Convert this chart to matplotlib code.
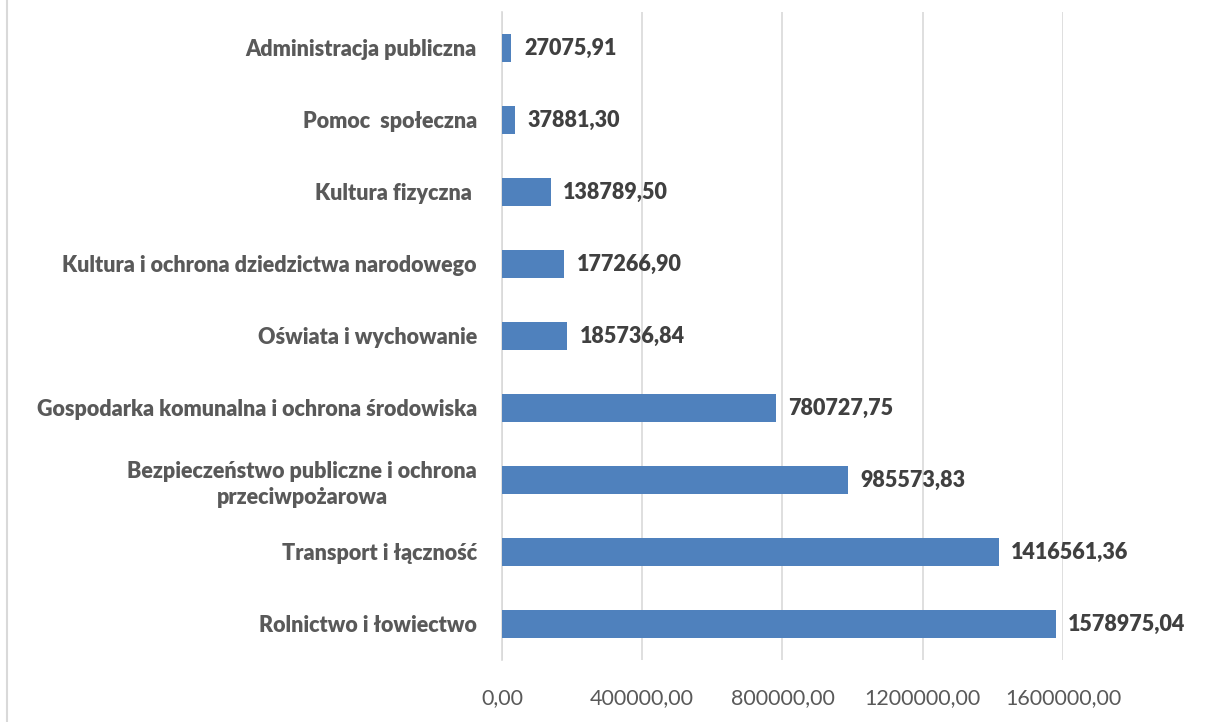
import numpy as np
import matplotlib
matplotlib.use("Agg")
from matplotlib import pyplot as plt
from matplotlib.lines import Line2D

# categories from bottom to top
categories = ["Rolnictwo i łowiectwo",
              "Transport i łączność",
              "Bezpieczeństwo publiczne i ochrona\nprzeciwpożarowa",
              "Gospodarka komunalna i ochrona środowiska",
              "Oświata i wychowanie",
              "Kultura i ochrona dziedzictwa narodowego",
              "Kultura fizyczna ",
              "Pomoc  społeczna",
              "Administracja publiczna"]
values = [1578975.04, 1416561.36, 985573.83, 780727.75, 185736.84,
          177266.90, 138789.50, 37881.30, 27075.91]
xticks = [0, 400000, 800000, 1200000, 1600000]

plt.rcParams["font.family"] = ["Lato", "DejaVu Sans"]

fig = plt.figure(figsize=(12.13, 7.22), dpi=100)
ax = fig.add_axes([502/1213, 1-660/722, (1063-502)/1213, (660-12)/722])

y = np.arange(len(categories))
ax.barh(y, values, height=0.4, color="#4f81bd", zorder=3)

def fmt(v):
    return f"{v:.2f}".replace(".", ",")

for yi, v in zip(y, values):
    ax.annotate(fmt(v), (v, yi), xytext=(9, 0), textcoords="offset points",
                ha="left", va="center", fontsize=15.5, fontweight="heavy",
                color="#404040", clip_on=False)

ax.set_xlim(0, 1600000)
ax.set_ylim(-0.5, len(categories) - 0.5)
ax.set_xticks(xticks)
ax.set_xticklabels([fmt(t) for t in xticks])
ax.set_yticks(y)
ax.set_yticklabels(categories, fontsize=15.5, fontweight="heavy", color="#595959",
                   ha="right", multialignment="center", linespacing=1.3)
ax.tick_params(axis="x", length=0, labelsize=15.5, labelcolor="#595959", pad=20)
ax.tick_params(axis="y", length=0, pad=18)
ax.grid(axis="x", color="#d9d9d9", linewidth=1.2, zorder=0)

for s in ["top", "right", "bottom"]:
    ax.spines[s].set_visible(False)
ax.spines["left"].set_color("#d9d9d9")
ax.spines["left"].set_linewidth(1.2)

# chart area border on the left
fig.add_artist(Line2D([7/1213, 7/1213], [0, 1], transform=fig.transFigure,
                      color="#d9d9d9", linewidth=1.5))

plt.savefig("out.png", dpi=100)
